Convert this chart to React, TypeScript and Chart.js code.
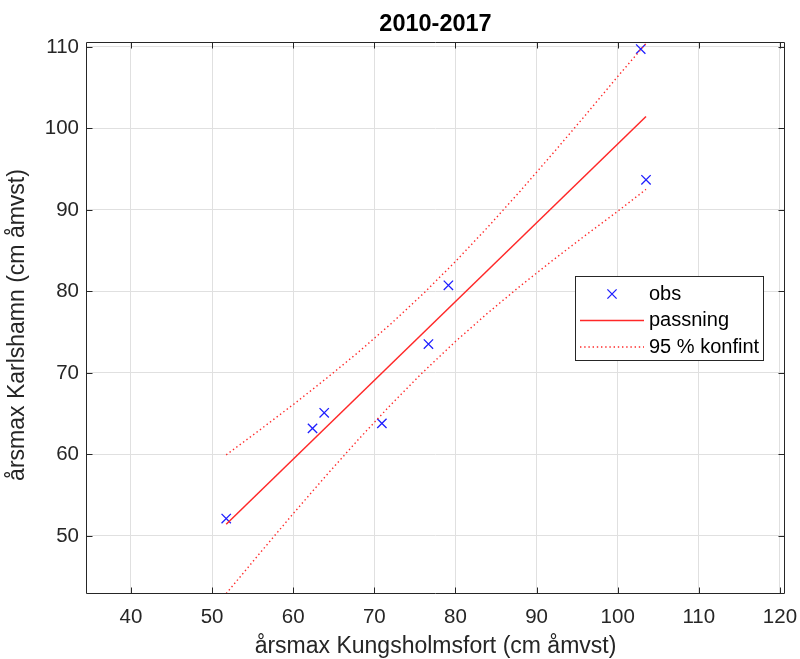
import React, { useEffect, useRef } from "react";
import { Chart, registerables } from "chart.js";

Chart.register(...registerables);

const TITLE = "2010-2017";
const X_LABEL = "årsmax Kungsholmsfort (cm åmvst)";
const Y_LABEL = "årsmax Karlshamn (cm åmvst)";
const X_TICKS = [40, 50, 60, 70, 80, 90, 100, 110, 120];
const Y_TICKS = [50, 60, 70, 80, 90, 100, 110];
const X_MIN = 34.58;
const X_MAX = 120.5;
const Y_MIN = 43.0;
const Y_MAX = 110.49;

const OBS_X = [51.74, 62.38, 63.82, 70.93, 76.67, 79.13, 102.84, 103.49];
const OBS_Y = [52.14, 63.2, 65.11, 63.81, 73.55, 80.76, 109.75, 93.7];
const FIT_X = [51.74, 103.49];
const FIT_Y = [51.44, 101.48];
const CI_X = [51.74, 56, 60, 64, 68, 72, 76, 80, 84, 88, 92, 96, 100, 103.49];
const CI_UPPER = [59.95, 63.1, 66.12, 69.26, 72.52, 75.99, 79.7, 83.68, 87.91, 92.34, 96.93, 101.61, 106.38, 110.43];
const CI_LOWER = [42.93, 48.02, 52.74, 57.34, 61.8, 66.07, 70.1, 73.86, 77.37, 80.68, 83.83, 86.87, 89.84, 92.53];
const LEGEND_LABELS = ["obs", "passning", "95 % konfint"];

const FONT = "'Liberation Sans', Arial, Helvetica, sans-serif";
const TEXT = "#262626";
const RED = "rgb(255,40,40)";
const BLUE = "rgb(30,30,255)";
const DOT_DASH = [1.4, 2.8];

const pts = (xs: number[], ys: number[]) => xs.map((x, i) => ({ x, y: ys[i] }));

const decorPlugin = {
  id: "decor",
  afterDraw(chart: any) {
    const { ctx, chartArea: a, scales } = chart;
    const xs = scales.x;
    const ys = scales.y;
    ctx.save();
    const L = a.left - 0.5, R = a.right + 0.5, T = a.top - 0.5, B = a.bottom + 0.5;
    ctx.strokeStyle = TEXT;
    ctx.lineWidth = 1;
    ctx.setLineDash([]);
    ctx.beginPath();
    ctx.rect(L, T, R - L, B - T);
    const tl = 6;
    X_TICKS.forEach((v) => {
      const p = Math.round(xs.getPixelForValue(v)) + 0.5;
      ctx.moveTo(p, B); ctx.lineTo(p, B - tl);
      ctx.moveTo(p, T); ctx.lineTo(p, T + tl);
    });
    Y_TICKS.forEach((v) => {
      const p = Math.round(ys.getPixelForValue(v)) + 0.5;
      ctx.moveTo(L, p); ctx.lineTo(L + tl, p);
      ctx.moveTo(R, p); ctx.lineTo(R - tl, p);
    });
    ctx.stroke();

    const cx = (a.left + a.right) / 2;
    ctx.fillStyle = "#000000";
    ctx.textAlign = "center";
    ctx.textBaseline = "middle";
    ctx.font = `bold 23.5px ${FONT}`;
    ctx.fillText(TITLE, cx, 25);
    ctx.fillStyle = TEXT;
    ctx.font = `23px ${FONT}`;
    ctx.fillText(X_LABEL, cx, 647);
    ctx.save();
    ctx.translate(18, 325);
    ctx.rotate(-Math.PI / 2);
    ctx.fillText(Y_LABEL, 0, 0);
    ctx.restore();

    const w = 188, h = 84;
    const lx = a.right - 21 - w;
    const ly = (a.top + a.bottom) / 2 - h / 2;
    ctx.fillStyle = "#ffffff";
    ctx.fillRect(lx, ly, w, h);
    ctx.strokeStyle = TEXT;
    ctx.lineWidth = 1;
    ctx.strokeRect(Math.round(lx) + 0.5, Math.round(ly) + 0.5, w, h);
    const rowY = (i: number) => ly + 18 + i * 26.5;
    const mx = lx + 37, my = rowY(0), r = 4.6;
    ctx.strokeStyle = BLUE;
    ctx.lineWidth = 1.3;
    ctx.beginPath();
    ctx.moveTo(mx - r, my - r); ctx.lineTo(mx + r, my + r);
    ctx.moveTo(mx - r, my + r); ctx.lineTo(mx + r, my - r);
    ctx.stroke();
    ctx.strokeStyle = RED;
    ctx.lineWidth = 1.5;
    ctx.beginPath();
    ctx.moveTo(lx + 5, rowY(1));
    ctx.lineTo(lx + 69, rowY(1));
    ctx.stroke();
    ctx.lineWidth = 1.4;
    ctx.setLineDash(DOT_DASH);
    ctx.beginPath();
    ctx.moveTo(lx + 5, rowY(2));
    ctx.lineTo(lx + 69, rowY(2));
    ctx.stroke();
    ctx.setLineDash([]);
    ctx.fillStyle = "#000000";
    ctx.textAlign = "left";
    ctx.textBaseline = "middle";
    ctx.font = `20px ${FONT}`;
    LEGEND_LABELS.forEach((t, i) => ctx.fillText(t, lx + 74, rowY(i)));
    ctx.restore();
  },
};

export default function App() {
  const ref = useRef<HTMLCanvasElement | null>(null);
  useEffect(() => {
    if (!ref.current) return;
    const chart = new Chart(ref.current, {
      type: "scatter",
      data: {
        datasets: [
          {
            label: LEGEND_LABELS[1],
            data: pts(FIT_X, FIT_Y),
            showLine: true,
            borderColor: RED,
            borderWidth: 1.5,
            pointRadius: 0,
            tension: 0,
          },
          {
            label: LEGEND_LABELS[2],
            data: pts(CI_X, CI_UPPER),
            showLine: true,
            borderColor: RED,
            borderWidth: 1.4,
            borderDash: DOT_DASH,
            pointRadius: 0,
            tension: 0,
          },
          {
            label: LEGEND_LABELS[2] + " ",
            data: pts(CI_X, CI_LOWER),
            showLine: true,
            borderColor: RED,
            borderWidth: 1.4,
            borderDash: DOT_DASH,
            pointRadius: 0,
            tension: 0,
          },
          {
            label: LEGEND_LABELS[0],
            data: pts(OBS_X, OBS_Y),
            showLine: false,
            pointStyle: "crossRot",
            pointRadius: 6.6,
            pointBorderWidth: 1.3,
            pointBorderColor: BLUE,
            pointBackgroundColor: BLUE,
            borderColor: BLUE,
          },
        ],
      },
      options: {
        responsive: false,
        animation: false,
        events: [],
        layout: { padding: { top: 43, right: 16, left: 0, bottom: 0 } },
        plugins: {
          legend: { display: false },
          title: { display: false },
          tooltip: { enabled: false },
        },
        scales: {
          x: {
            type: "linear",
            min: X_MIN,
            max: X_MAX,
            afterBuildTicks: (s: any) => {
              s.ticks = X_TICKS.map((v) => ({ value: v }));
            },
            afterFit: (s: any) => {
              s.height = 66;
              s.paddingLeft = 0;
              s.paddingRight = 0;
            },
            grid: { color: "#e0e0e0", drawTicks: false, lineWidth: 1 },
            border: { display: false },
            ticks: {
              padding: 12,
              color: TEXT,
              font: { family: FONT, size: 20.5 },
              maxRotation: 0,
              autoSkip: false,
            },
          },
          y: {
            type: "linear",
            min: Y_MIN,
            max: Y_MAX,
            afterBuildTicks: (s: any) => {
              s.ticks = Y_TICKS.map((v) => ({ value: v }));
            },
            afterFit: (s: any) => {
              s.width = 87;
              s.paddingTop = 0;
              s.paddingBottom = 0;
            },
            grid: { color: "#e0e0e0", drawTicks: false, lineWidth: 1 },
            border: { display: false },
            ticks: {
              padding: 8,
              color: TEXT,
              font: { family: FONT, size: 20.5 },
              autoSkip: false,
            },
          },
        },
      },
      plugins: [decorPlugin],
    } as any);
    return () => chart.destroy();
  }, []);
  return (
    <div style={{ position: "fixed", left: 0, top: 0, width: 800, height: 659, background: "#fff" }}>
      <canvas ref={ref} width={800} height={659} style={{ width: 800, height: 659, display: "block" }} />
    </div>
  );
}
